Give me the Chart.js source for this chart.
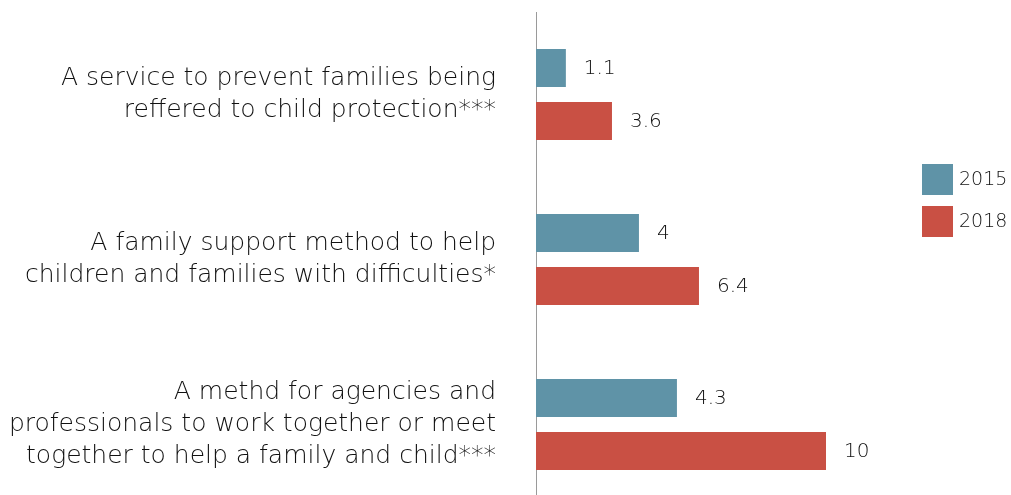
<!DOCTYPE html>
<html>
<head>
<meta charset="utf-8">
<script src="https://cdn.jsdelivr.net/npm/chart.js@4/dist/chart.umd.min.js"></script>
<style>
  html, body { margin: 0; padding: 0; background: #fff; overflow: hidden; }
  #wrap { position: relative; width: 1011px; height: 507px; }
  .leg { position: absolute; left: 922px; font: 200 19px "DejaVu Sans", sans-serif; color: #111; }
  .leg span { display: inline-block; width: 31px; height: 31px; vertical-align: middle; margin-right: 6px; }
</style>
</head>
<body>
<div id="wrap">
  <canvas id="chart" width="1011" height="507"></canvas>
  <div class="leg" style="top:164px"><span style="background:#5f93a7"></span>2015</div>
  <div class="leg" style="top:206px"><span style="background:#c95044"></span>2018</div>
</div>
<script>
const categories = [
    ['A service to prevent families being', 'reffered to child protection***'],
    ['A family support method to help', 'children and families with difficulties*'],
    ['A methd for agencies and', 'professionals to work together or meet', 'together to help a family and child***']
];
// bar lengths as drawn in the picture
const values2015 = [1.03, 3.55, 4.86];
const values2018 = [2.62, 5.62, 10];
// numbers printed beside the bars
const labels2015 = ['1.1', '4', '4.3'];
const labels2018 = ['3.6', '6.4', '10'];

const valueLabels = {
    id: 'valueLabels',
    afterDatasetsDraw(chart) {
        const ctx = chart.ctx;
        const texts = [labels2015, labels2018];
        ctx.save();
        ctx.font = '200 20px "DejaVu Sans", sans-serif';
        ctx.fillStyle = '#111';
        ctx.textBaseline = 'middle';
        chart.data.datasets.forEach((ds, i) => {
            chart.getDatasetMeta(i).data.forEach((bar, j) => {
                ctx.fillText(texts[i][j], bar.x + 18, bar.y + 1);
            });
        });
        ctx.restore();
    }
};

const ctx = document.getElementById('chart').getContext('2d');
new Chart(ctx, {
    type: 'bar',
    data: {
        labels: categories,
        datasets: [{
            label: '2015',
            data: values2015,
            backgroundColor: '#5f93a7',
            categoryPercentage: 0.642,
            barPercentage: 0.717
        }, {
            label: '2018',
            data: values2018,
            backgroundColor: '#c95044',
            categoryPercentage: 0.642,
            barPercentage: 0.717
        }]
    },
    options: {
        indexAxis: 'y',
        responsive: false,
        animation: false,
        layout: { padding: { top: 12, right: 40 } },
        plugins: {
            legend: { display: false },
            tooltip: { enabled: false }
        },
        scales: {
            x: {
                display: false,
                min: 0,
                max: 15
            },
            y: {
                grid: { display: false, drawTicks: false },
                border: { display: true, color: '#9a9a9a', width: 1 },
                afterFit: scale => {
                    scale.width = 536;
                    scale.paddingTop = 0;
                    scale.paddingBottom = 0;
                },
                ticks: {
                    padding: 40,
                    color: '#111',
                    font: { family: 'DejaVu Sans', weight: 200, size: 25, lineHeight: 1.28 }
                }
            }
        }
    },
    plugins: [valueLabels]
});
</script>
</body>
</html>
